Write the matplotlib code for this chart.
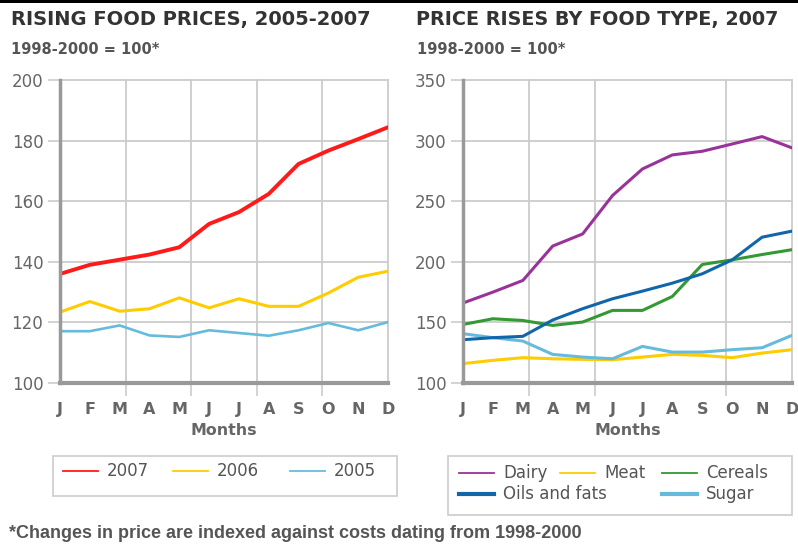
import numpy as np
import matplotlib
matplotlib.use("Agg")
import matplotlib.pyplot as plt
from matplotlib.lines import Line2D
from matplotlib.patches import Rectangle

# данные
months = ['J', 'F', 'M', 'A', 'M', 'J', 'J', 'A', 'S', 'O', 'N', 'D']

years = ['2007', '2006', '2005']
p2007 = [136.0, 139.0, 140.7, 142.4, 144.8, 152.5, 156.4, 162.4, 172.3, 176.7, 180.5, 184.4]
p2006 = [123.4, 126.9, 123.7, 124.5, 128.1, 124.8, 127.8, 125.3, 125.3, 129.7, 134.9, 136.9]
p2005 = [117.1, 117.1, 119.0, 115.7, 115.2, 117.4, 116.5, 115.6, 117.4, 119.8, 117.4, 120.1]

food_types = ['Dairy', 'Meat', 'Cereals', 'Oils and fats', 'Sugar']
dairy = [166.0, 175.0, 184.6, 213.0, 223.0, 254.7, 276.6, 288.2, 291.2, 297.2, 303.3, 294.0]
meat = [116.0, 118.7, 120.9, 120.0, 119.5, 119.2, 121.4, 123.6, 122.8, 120.9, 124.7, 127.5]
cereals = [148.3, 153.0, 151.6, 147.5, 150.3, 159.9, 159.9, 171.4, 197.8, 201.6, 206.0, 210.0]
oils = [135.7, 137.4, 138.5, 152.0, 161.3, 169.5, 175.8, 182.4, 190.1, 201.6, 220.3, 225.3]
sugar = [140.7, 137.4, 134.6, 123.6, 121.4, 120.0, 130.2, 125.5, 125.5, 127.5, 129.1, 139.3]

W, H = 798, 546
GRID = '#cccccc'
AXIS = '#999999'
TXT = '#555555'
FONT = 'DejaVu Sans'


def fx(px):
    return px / W


def fy(py):
    return 1 - py / H


def style_axes(ax, ylim, yticks, vgrid):
    x = np.arange(len(months))
    ax.set_xlim(0, len(months) - 1)
    ax.set_ylim(*ylim)
    for s in ['top', 'right']:
        ax.spines[s].set_visible(False)
    ax.spines['left'].set_color(AXIS)
    ax.spines['left'].set_linewidth(2.5)
    ax.spines['bottom'].set_color(AXIS)
    ax.spines['bottom'].set_linewidth(3)
    ax.set_yticks(yticks)
    ax.set_yticklabels([str(v) for v in yticks], fontsize=12, color='#666666',
                       family=FONT)
    ax.tick_params(axis='y', length=9, width=1.2, color=GRID, pad=3)
    ax.set_xticks(x)
    ax.set_xticklabels(months, fontsize=11.5, fontweight='bold', color='#666666',
                       family=FONT)
    ax.tick_params(axis='x', which='major', length=0, pad=14)
    ax.set_xticks(vgrid, minor=True)
    ax.tick_params(axis='x', which='minor', length=9, width=1.2, color=GRID)
    for v in yticks[1:]:
        ax.axhline(v, color=GRID, lw=1.3, zorder=0, clip_on=False)
    for v in vgrid[1:]:
        ax.axvline(v, color=GRID, lw=1.3, zorder=0, clip_on=False)
    ax.set_xlabel('Months', fontsize=11.4, fontweight='bold', color='#666666',
                  family=FONT, labelpad=4)


def draw_legend(fig, box, entries):
    x0, y0, x1, y1 = box
    fig.add_artist(Rectangle((fx(x0), fy(y1)), fx(x1 - x0), (y1 - y0) / H,
                             transform=fig.transFigure, fill=False,
                             edgecolor='#cccccc', lw=1.2))
    for label, color, lw, lx, ly in entries:
        fig.add_artist(Line2D([fx(lx), fx(lx + 35)], [fy(ly), fy(ly)],
                              transform=fig.transFigure, color=color, lw=lw))
        fig.text(fx(lx + 44), fy(ly), label, fontsize=12, color=TXT,
                 family=FONT, va='center', ha='left')


fig = plt.figure(figsize=(W / 100, H / 100), dpi=100)
fig.patch.set_facecolor('white')

# верхняя чёрная полоса
fig.add_artist(Rectangle((0, fy(3)), 1, 3 / H, transform=fig.transFigure,
                         color='black', lw=0))

x = np.arange(len(months))
vgrid = np.linspace(0, 11, 6)

# левый график
ax1 = fig.add_axes([fx(60), fy(383), fx(328), 303 / H])
style_axes(ax1, (100, 200), [100, 120, 140, 160, 180, 200], vgrid)
year_colors = ['#ff1a1a', '#ffcc00', '#66bbdd']
year_lw = [2.8, 2.2, 1.9]
for vals, c, lw in zip([p2005, p2006, p2007], year_colors[::-1], year_lw[::-1]):
    ax1.plot(x, vals, color=c, lw=lw, solid_capstyle='round')

# правый график
ax2 = fig.add_axes([fx(463), fy(383), fx(329), 303 / H])
vgrid2 = np.delete(vgrid, 3)
style_axes(ax2, (100, 350), [100, 150, 200, 250, 300, 350], vgrid2)
type_colors = ['#993399', '#ffcc00', '#339933', '#1166aa', '#66bbdd']
for vals, c in zip([meat, sugar, cereals, oils, dairy],
                   [type_colors[1], type_colors[4], type_colors[2], type_colors[3], type_colors[0]]):
    ax2.plot(x, vals, color=c, lw=2.2, solid_capstyle='round')

# заголовки
fig.text(fx(11), fy(19), 'RISING FOOD PRICES, 2005-2007', fontsize=14,
         fontweight='bold', color='#333333', va='center', family=FONT)
fig.text(fx(416), fy(19), 'PRICE RISES BY FOOD TYPE, 2007', fontsize=13.8,
         fontweight='bold', color='#333333', va='center', family=FONT)
fig.text(fx(11), fy(50), '1998-2000 = 100*', fontsize=10.5, fontweight='bold',
         color=TXT, va='center', family=FONT)
fig.text(fx(417), fy(50), '1998-2000 = 100*', fontsize=10.5, fontweight='bold',
         color=TXT, va='center', family=FONT)

# легенды
draw_legend(fig, (53, 456, 397, 496), [
    (years[0], year_colors[0], 1.3, 63, 471),
    (years[1], year_colors[1], 1.3, 173, 471),
    (years[2], year_colors[2], 1.3, 290, 471),
])
draw_legend(fig, (448, 456, 792, 515), [
    (food_types[0], type_colors[0], 1.3, 459, 473),
    (food_types[1], type_colors[1], 1.3, 560, 473),
    (food_types[2], type_colors[2], 1.3, 662, 473),
    (food_types[3], type_colors[3], 3.0, 459, 494),
    (food_types[4], type_colors[4], 3.0, 662, 494),
])

fig.text(fx(9), fy(533), '*Changes in price are indexed against costs dating from 1998-2000',
         fontsize=13, fontweight='bold', color=TXT, va='center',
         family='Liberation Sans')

fig.savefig('out.png', dpi=100)
